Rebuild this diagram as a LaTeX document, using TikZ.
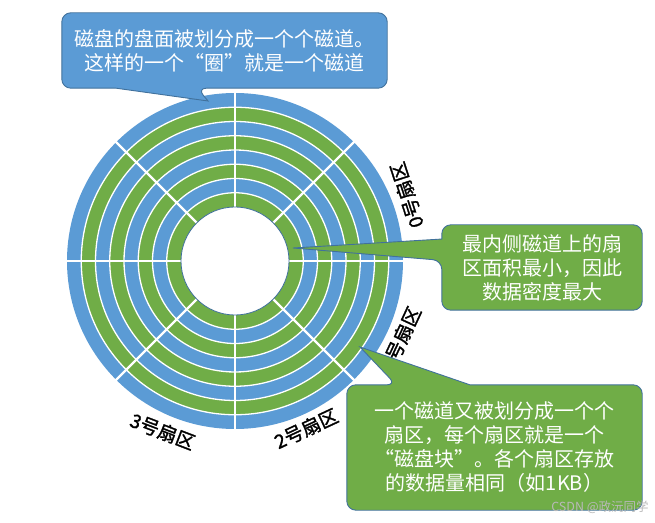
\documentclass[tikz,border=0pt]{standalone}
\usepackage{fontspec}
\newfontfamily\cjk{Noto Sans CJK SC}
\newfontfamily\cjklabel[FakeBold=1.5]{Noto Sans CJK SC}
\usetikzlibrary{calc}
\definecolor{DiskBlue}{RGB}{91,155,213}
\definecolor{DiskGreen}{RGB}{112,173,71}
\definecolor{EdgeBlue}{RGB}{65,113,156}
\definecolor{MarkGray}{RGB}{185,185,185}
\pgfdeclarelayer{disk}
\pgfdeclarelayer{bubble}
\pgfsetlayers{disk,bubble,main}

\begin{document}
\begin{tikzpicture}[
    x=1pt, y=1pt,
    bubble/.style={fill=#1, draw=EdgeBlue, line width=0.9pt},
    bubbletext/.style={
        text=white,
        align=center,
        font=\cjk\fontsize{20}{24}\selectfont,
        inner sep=0pt
    },
    seclabel/.style={font=\cjklabel\fontsize{19}{19}\selectfont, inner sep=0pt},
    ringgap/.style={white, line width=1.3pt},
    sepline/.style={white, line width=2.4pt}
]
\useasboundingbox (0,0) rectangle (655,522);
\coordinate (c) at (235,261);

% DISK
\begin{pgfonlayer}{disk}
\foreach \i in {0,...,7} {
    \ifodd\i \def\col{DiskGreen}\else \def\col{DiskBlue}\fi
    \fill[\col] (c) circle[radius=168-\i*14.25];
}
\foreach \i in {1,...,7}
    \draw[ringgap] (c) circle[radius=168-\i*14.25];
\foreach \a in {0,45,...,315}
    \draw[sepline] ($(c)+(\a:50)$) -- ($(c)+(\a:170)$);
\draw[fill=white, draw=EdgeBlue, line width=0.8pt] (c) circle[radius=54];

% SECTOR LABELS
\node[seclabel, rotate=108] (sec0) at ($(c)+(21:184)$) {0号扇区};
\node[seclabel, rotate=65] (sec1) at ($(c)+(-25:183)$) {1号扇区};
\node[seclabel, rotate=25] (sec2) at ($(c)+(-67:182)$) {2号扇区};
\node[seclabel, rotate=-21] (sec3) at ($(c)+(-113:185)$) {3号扇区};
\end{pgfonlayer}

% CALLOUT: TRACK
\node[bubbletext, minimum width=325, minimum height=75] (trackbox) at (224.5,471.5)
{磁盘的盘面被划分成一个个磁道。\\这样的一个“圈”就是一个磁道};
\coordinate (tracktip) at (208,421);

% CALLOUT: INNER TRACK
\node[bubbletext, minimum width=200, minimum height=85] (innerbox) at (542,254.5)
{最内侧磁道上的扇\\区面积最小，因此\\数据密度最大};
\coordinate (innertip) at (293,274);

% CALLOUT: SECTOR
\node[bubbletext, minimum width=295, minimum height=125] (sectorbox) at (494.5,74.5)
{一个磁道又被划分成一个个\\扇区，每个扇区就是一个\\“磁盘块”。各个扇区存放\\的数据量相同（如1KB）};
\coordinate (sectortip) at (360,175);

\begin{pgfonlayer}{bubble}
\draw[bubble=DiskBlue] [rounded corners=9pt]
(trackbox.north) -- (trackbox.north east) -- (trackbox.south east)
-- ($(trackbox.south west)!5/12!(trackbox.south east)$) [sharp corners]
-- (tracktip)
-- ($(trackbox.south west)!1/6!(trackbox.south east)$) [rounded corners=9pt]
-- (trackbox.south west) -- (trackbox.north west) -- cycle;

\draw[bubble=DiskGreen] [rounded corners=9pt]
(innerbox.north) -- (innerbox.north east) -- (innerbox.south east)
-- (innerbox.south west)
-- ($(innerbox.south west)!7/12!(innerbox.north west)$) [sharp corners]
-- (innertip)
-- ($(innerbox.south west)!5/6!(innerbox.north west)$) [rounded corners=9pt]
-- (innerbox.north west) -- cycle;

\draw[bubble=DiskGreen] [rounded corners=9pt]
(sectorbox.south) -- (sectorbox.south west) -- (sectorbox.north west)
-- ($(sectorbox.north west)!1/6!(sectorbox.north east)$) [sharp corners]
-- (sectortip)
-- ($(sectorbox.north west)!5/12!(sectorbox.north east)$) [rounded corners=9pt]
-- (sectorbox.north east) -- (sectorbox.south east) -- cycle;
\end{pgfonlayer}

% WATERMARK
\node[font=\cjk\fontsize{12.5}{12.5}\selectfont, text=MarkGray, inner sep=0pt]
(mark) at (600,15) {CSDN @政沅同学};

\end{tikzpicture}
\end{document}
